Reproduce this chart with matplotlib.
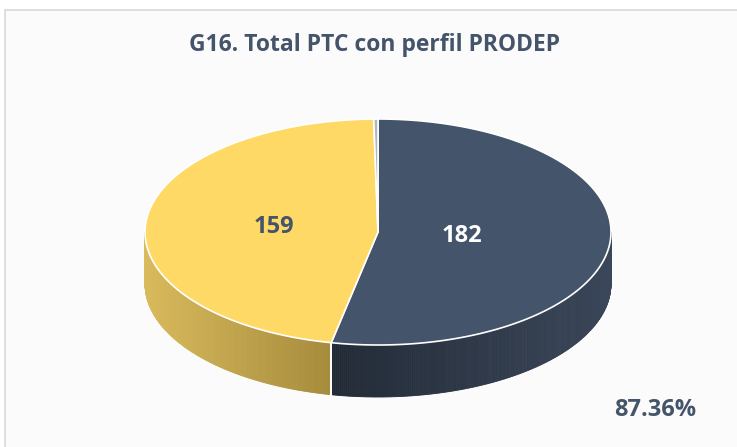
import numpy as np
import matplotlib
matplotlib.use('Agg')
import matplotlib.pyplot as plt
from matplotlib.colors import to_rgb
from matplotlib.patches import Rectangle

# data
labels = ['Con perfil', 'Sin perfil', 'Otro']
values = [182, 159, 1]
label_text = ['182', '159', '']
top_colors = ['#44546A', '#FFD966', '#AEB6C2']
side_left = ['#222A36', '#D9BA5C', '#8E96A2']
side_right = ['#3A4659', '#A68B3C', '#8E96A2']
label_colors = ['white', '#44546A', '#44546A']
label_r = [0.36, 0.45, 0.0]
percent_text = '87.36%'
title = 'G16. Total PTC con perfil PRODEP'

# geometry in pixels
cx, cy, rx, ry, h = 378, 232, 233, 113, 52

fig = plt.figure(figsize=(7.37, 4.47), dpi=100)
ax = fig.add_axes([0, 0, 1, 1])
ax.set_xlim(0, 737)
ax.set_ylim(447, 0)
ax.axis('off')

ax.add_patch(Rectangle((5, 10), 740, 450, facecolor='#fbfbfb', edgecolor='#d9d9d9', lw=1.2, zorder=0))

def px(t):
    return cx + rx * np.cos(np.radians(t)), cy - ry * np.sin(np.radians(t))

frac = np.array(values) / sum(values)
ends = 90 - np.cumsum(frac) * 360
starts = np.concatenate([[90], ends[:-1]])

# sides (front half: angles 180..360)
for i in range(len(values)):
    a0, a1 = ends[i] % 360, starts[i] % 360
    if a1 <= a0:
        a1 += 360
    lo, hi = max(a0, 180), min(a1, 360)
    if hi <= lo:
        continue
    ts = np.linspace(lo, hi, int((hi - lo) * 2) + 2)
    c0, c1 = np.array(to_rgb(side_left[i])), np.array(to_rgb(side_right[i]))
    xl, xr = cx + rx * np.cos(np.radians(lo)), cx + rx * np.cos(np.radians(hi))
    for j in range(len(ts) - 1):
        xa, ya = px(ts[j])
        xb, yb = px(ts[j + 1])
        f = ((xa + xb) / 2 - xl) / max(xr - xl, 1)
        col = c0 + (c1 - c0) * f
        ax.fill([xa, xb, xb, xa], [ya, yb, yb + h, ya + h], color=col, lw=0.6, ec=col, zorder=2)
    # white seam at slice boundary
    for t in (lo, hi):
        if t not in (180, 360):
            x0, y0 = px(t)
            ax.plot([x0, x0], [y0, y0 + h], color='white', lw=1.2, zorder=3)

# top face
for i in range(len(values)):
    ts = np.linspace(starts[i], ends[i], 200)
    xs, ys = px(ts)
    ax.fill(np.concatenate([[cx], xs]), np.concatenate([[cy], ys]),
            facecolor=top_colors[i], edgecolor='white', lw=1.2, zorder=4)

# labels
for i in range(len(values)):
    if not label_text[i]:
        continue
    m = (starts[i] + ends[i]) / 2
    x = cx + label_r[i] * rx * np.cos(np.radians(m))
    y = cy - label_r[i] * ry * np.sin(np.radians(m))
    ax.text(x, y, label_text[i], color=label_colors[i], fontsize=17, fontweight='bold',
            family='Open Sans', ha='center', va='center', zorder=5)

ax.text(375, 45, title, color='#44546A', fontsize=16.5, fontweight='bold',
        family='Open Sans', ha='center', va='center')
ax.text(655, 410, percent_text, color='#44546A', fontsize=17, fontweight='bold',
        family='Open Sans', ha='center', va='center')

fig.savefig('out.png', dpi=100)
